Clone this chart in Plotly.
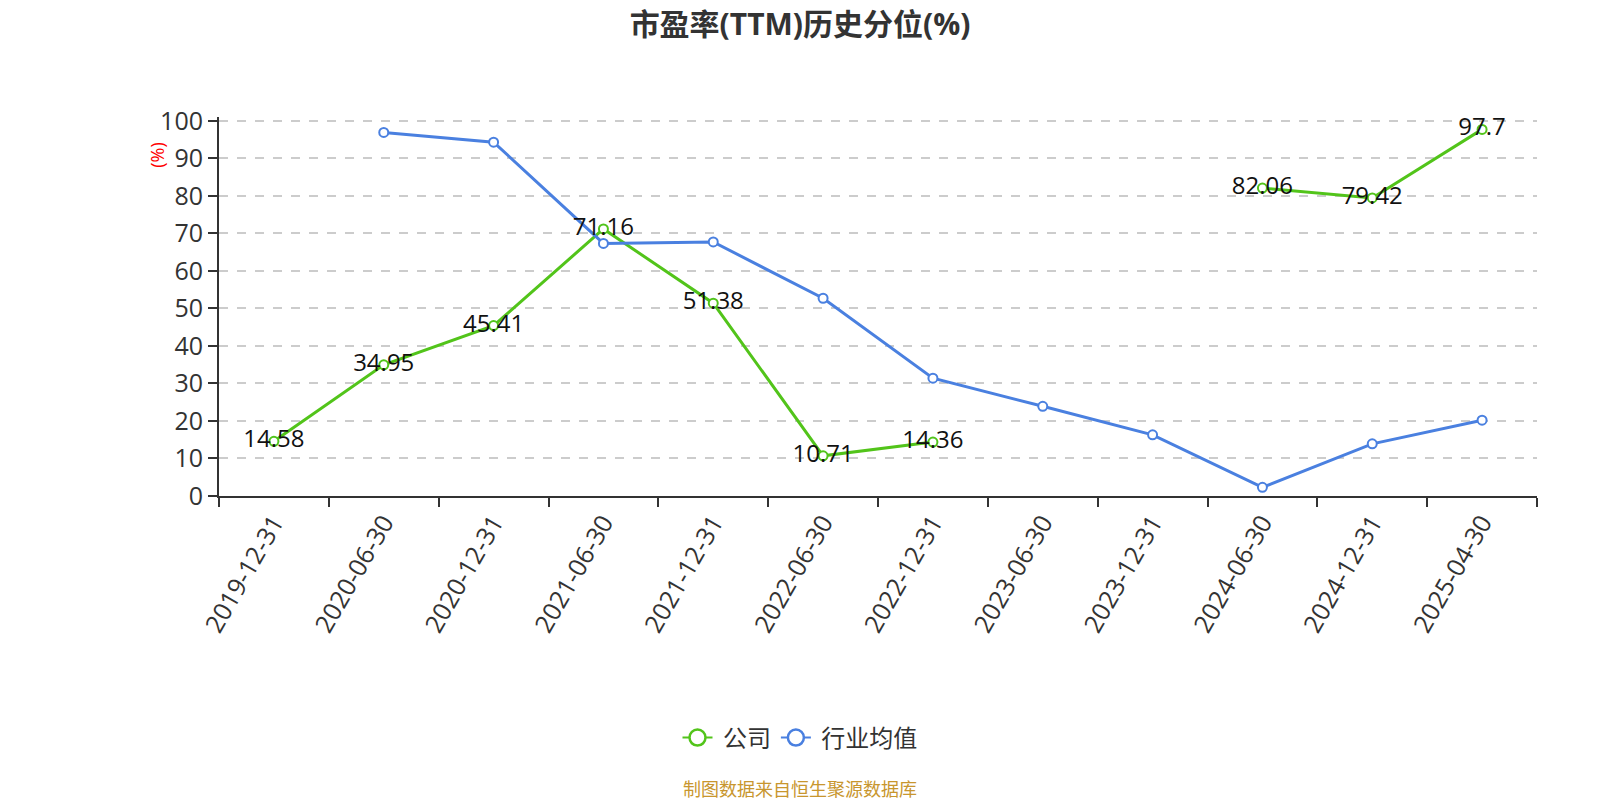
import plotly.graph_objects as go

categories = ["2019-12-31", "2020-06-30", "2020-12-31", "2021-06-30", "2021-12-31", "2022-06-30",
              "2022-12-31", "2023-06-30", "2023-12-31", "2024-06-30", "2024-12-31", "2025-04-30"]
company = [14.58, 34.95, 45.41, 71.16, 51.38, 10.71, 14.36, None, None, 82.06, 79.42, 97.7]
industry = [None, 96.9, 94.3, 67.3, 67.7, 52.7, 31.4, 23.9, 16.3, 2.3, 13.9, 20.2]
company_labels = ["" if v is None else f"{v:g}" for v in company]

GREEN = "#52c41a"
BLUE = "#4a80e0"
FONT = "Open Sans, Noto Sans CJK SC"
CJK = "Noto Sans CJK SC"

# page body has an 8px margin: figure coords = screen coords - 8
W, H = 1592, 792
YMAX = 101
L, R, T, B = 211, 63, 112.7 - (YMAX - 100) * 3.756, 303.5

fig = go.Figure()
fig.add_trace(go.Scatter(
    x=categories, y=company, mode="lines+markers", name="公司",
    line=dict(color=GREEN, width=3),
    marker=dict(symbol="circle", size=9, color="white", line=dict(color=GREEN, width=2)),
    connectgaps=False, showlegend=False, cliponaxis=False,
))
fig.add_trace(go.Scatter(
    x=categories, y=industry, mode="lines+markers", name="行业均值",
    line=dict(color=BLUE, width=3),
    marker=dict(symbol="circle", size=9, color="white", line=dict(color=BLUE, width=2)),
    connectgaps=False, showlegend=False, cliponaxis=False,
))
fig.add_trace(go.Scatter(
    x=categories, y=company, mode="text", name="公司",
    text=company_labels, textposition="middle center",
    textfont=dict(size=24, color="#111", family=FONT),
    showlegend=False, cliponaxis=False, hoverinfo="skip",
))
# legend entries
for nm, col in [("公司", GREEN), ("行业均值", BLUE)]:
    fig.add_trace(go.Scatter(
        x=[None], y=[None], mode="lines+markers", name=" " + nm,
        line=dict(color=col, width=2),
        marker=dict(symbol="circle", size=16, color="white", line=dict(color=col, width=2.5)),
    ))

fig.update_layout(
    width=W, height=H,
    margin=dict(l=L, r=R, t=T, b=B),
    paper_bgcolor="white", plot_bgcolor="white",
    font=dict(family=FONT, color="#333"),
    title=dict(text="<b>市盈率(TTM)历史分位(%)</b>", xref="container", x=792 / W, xanchor="center",
               yref="container", y=1 - 6 / H, yanchor="top", pad=dict(t=0, b=0, l=0, r=0),
               font=dict(size=30, color="#333", family=FONT)),
    legend=dict(orientation="h", xref="container", x=792 / W, xanchor="center",
                yref="container", y=1 - 730 / H, yanchor="middle",
                font=dict(size=24, color="#333", family=CJK),
                itemsizing="trace", tracegroupgap=0),
    showlegend=True,
)
fig.update_xaxes(
    type="category", range=[-0.5, 11.5], tickson="boundaries",
    showline=True, linecolor="#333", linewidth=2,
    ticks="outside", ticklen=9, tickcolor="#333", tickwidth=2,
    tickangle=-60, tickfont=dict(size=25, color="#333", family=FONT),
    showgrid=False, zeroline=False,
)
fig.update_yaxes(
    range=[0, YMAX], tickvals=[0, 10, 20, 30, 40, 50, 60, 70, 80, 90, 100],
    showline=True, linecolor="#333", linewidth=2,
    ticks="outside", ticklen=9, tickcolor="#333", tickwidth=2,
    tickfont=dict(size=25, color="#333", family=FONT),
    showgrid=True, gridcolor="#cccccc", gridwidth=1.5, griddash="dash",
    zeroline=False,
)
PW, PH = W - L - R, H - T - B
fig.add_annotation(
    text="(%)", textangle=-90, xref="paper", yref="paper",
    x=(148.7 - L) / PW, y=1 - (147 - T) / PH,
    xanchor="center", yanchor="middle", showarrow=False,
    font=dict(size=18, color="red", family=FONT),
)
fig.add_annotation(
    text="制图数据来自恒生聚源数据库", xref="paper", yref="paper",
    x=(792 - L) / PW, y=-(781 - (H - B)) / PH,
    xanchor="center", yanchor="middle", showarrow=False,
    font=dict(size=18, color="#c8962e", family=CJK),
)

fig.write_html("out.html")
